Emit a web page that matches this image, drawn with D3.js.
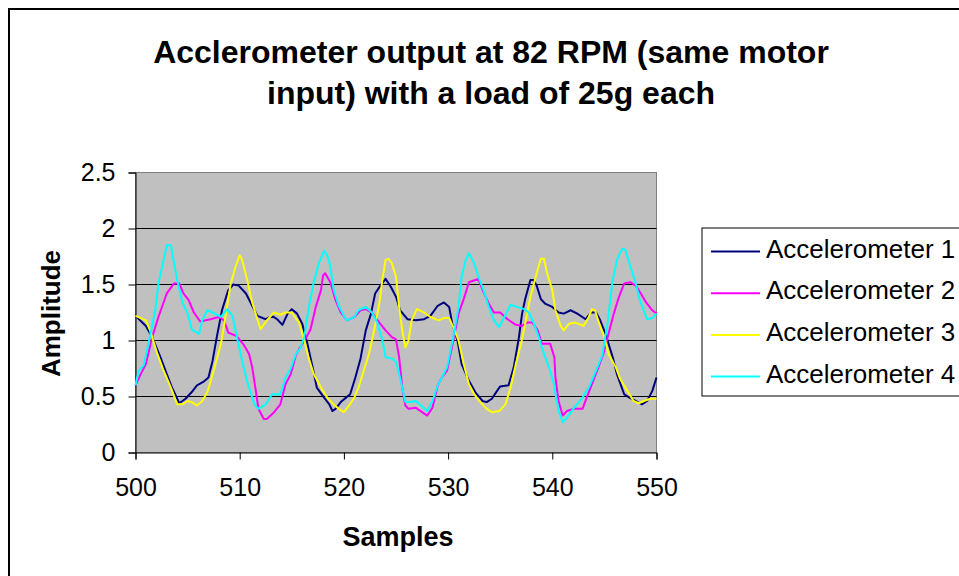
<!DOCTYPE html>
<html><head><meta charset="utf-8">
<script src="https://cdn.jsdelivr.net/npm/d3@7"></script>
<style>body{margin:0;background:#fff;}svg{display:block;font-family:"Liberation Sans",Arial,sans-serif;}</style>
</head><body><svg id="c" width="959" height="576"></svg>
<script>
const titleLines = ["Acclerometer output at 82 RPM (same motor", "input) with a load of 25g each"];
const xTitle = "Samples";
const yTitle = "Amplitude";
const xTicks = [500, 510, 520, 530, 540, 550];
const yTicks = [0, 0.5, 1, 1.5, 2, 2.5];
const seriesNames = ["Accelerometer 1", "Accelerometer 2", "Accelerometer 3", "Accelerometer 4"];
const seriesColors = ["#000080", "#FF00FF", "#FFFF00", "#00FFFF"];

const acc1X = [500,501,501.6,502.4,503,503.5,504.2,504.8,505.4,505.9,506.5,507,507.4,507.8,508.3,508.9,509.4,509.9,510.6,511.2,511.7,512.5,513.1,513.6,514.1,514.6,515,515.5,516,516.5,517,517.4,518.1,518.6,518.9,519.2,519.7,520.2,520.6,521.1,521.6,522.1,522.6,523,523.5,524,524.5,525,525.4,526.1,526.9,527.7,528.3,529,529.6,530.1,530.4,530.9,531.3,532,532.6,533.3,533.7,534.2,534.7,535,535.8,536.3,536.8,537.1,537.4,537.9,538.2,538.5,538.9,539.3,540,540.6,541.1,541.75,542.4,543.2,543.7,544.2,544.6,545.1,545.8,546.2,546.9,547.4,548,548.6,549.1,549.6,550];
const acc1Y = [1.22,1.13,1.03,0.85,0.70,0.58,0.44,0.48,0.54,0.60,0.63,0.67,0.82,1.03,1.27,1.45,1.50,1.49,1.42,1.31,1.22,1.19,1.22,1.19,1.14,1.24,1.28,1.24,1.15,0.97,0.76,0.58,0.49,0.43,0.37,0.39,0.45,0.49,0.52,0.67,0.84,1.09,1.24,1.42,1.49,1.55,1.48,1.39,1.27,1.19,1.18,1.19,1.22,1.31,1.34,1.30,1.15,1.0,0.79,0.64,0.54,0.46,0.45,0.48,0.55,0.59,0.60,0.76,1.03,1.24,1.37,1.54,1.54,1.49,1.37,1.33,1.30,1.25,1.24,1.27,1.24,1.19,1.25,1.25,1.18,1.06,0.85,0.70,0.52,0.49,0.46,0.43,0.46,0.55,0.67];

const acc2X = [500,500.5,501,501.6,502.2,503,503.7,504.2,504.6,505.1,505.6,506.2,507.2,508,508.5,508.9,509.7,510.4,510.9,511.2,511.5,511.8,512.3,512.6,513.3,513.9,514.4,514.9,515.4,515.8,516.3,516.8,517.3,517.8,518,518.2,518.7,519.2,519.7,520.3,521,521.6,522.1,522.7,523.4,524,524.6,525,525.3,525.6,525.9,526.2,526.9,527.5,528,528.5,529,529.4,529.9,530.5,531,531.5,532,532.6,532.9,533.4,533.9,534.4,535,535.7,536.5,537.1,537.6,538.1,538.6,539,539.8,540.2,540.3,540.6,541,541.4,542.1,542.9,543.3,543.8,544.3,544.9,545.4,545.9,546.4,546.9,547.5,548,548.5,549,549.6,550];
const acc2Y = [0.60,0.70,0.79,1.03,1.21,1.42,1.51,1.51,1.42,1.36,1.25,1.17,1.19,1.21,1.18,1.07,1.04,0.96,0.88,0.76,0.58,0.39,0.30,0.30,0.36,0.43,0.61,0.70,0.87,0.94,1.01,1.10,1.30,1.45,1.58,1.60,1.52,1.36,1.25,1.18,1.21,1.27,1.28,1.25,1.16,1.09,1.03,1.01,0.85,0.58,0.42,0.39,0.40,0.36,0.33,0.40,0.60,0.67,0.73,1.0,1.24,1.37,1.52,1.54,1.55,1.43,1.33,1.25,1.25,1.19,1.14,1.13,1.16,1.16,1.09,0.97,0.97,0.85,0.67,0.46,0.33,0.37,0.39,0.39,0.49,0.61,0.73,0.88,1.06,1.24,1.39,1.51,1.52,1.49,1.42,1.34,1.27,1.24];

const acc3X = [500,501,501.4,502.1,502.7,503.4,504,504.5,505,505.4,505.9,506.4,506.9,507.5,508.2,508.6,509.1,509.6,510,510.2,510.7,511.2,511.7,512,512.6,513.3,513.9,514.4,515,515.7,516.2,516.6,517.1,517.8,518.4,519,519.5,520,520.5,521,521.4,521.9,522.4,522.9,523.4,523.7,524,524.3,524.6,525,525.3,525.6,525.9,526.2,526.5,527,527.7,528.3,529.1,529.6,530.1,530.5,531,531.5,532,532.5,533.1,533.7,534.2,534.9,535.5,536,536.5,537,537.4,537.9,538.5,538.9,539.2,539.5,540,540.3,540.8,541.1,541.6,542.2,543,543.5,543.8,544.1,544.5,545,545.4,546.1,546.5,547.2,547.8,548.3,548.8,549.4,550];
const acc3Y = [1.22,1.18,1.09,0.88,0.73,0.58,0.43,0.43,0.46,0.45,0.42,0.46,0.54,0.73,0.97,1.19,1.49,1.66,1.76,1.73,1.55,1.34,1.19,1.10,1.18,1.25,1.23,1.25,1.25,1.16,1.0,0.85,0.70,0.58,0.49,0.43,0.39,0.36,0.42,0.49,0.58,0.73,0.88,1.09,1.33,1.55,1.72,1.73,1.69,1.57,1.30,1.09,0.94,1.0,1.18,1.28,1.25,1.21,1.18,1.20,1.20,1.12,1.0,0.79,0.61,0.52,0.45,0.39,0.36,0.37,0.43,0.58,0.79,0.97,1.15,1.39,1.60,1.73,1.73,1.60,1.45,1.27,1.13,1.09,1.15,1.16,1.13,1.21,1.28,1.27,1.15,1.03,0.88,0.76,0.66,0.55,0.46,0.44,0.46,0.48,0.48];

const acc4X = [500,500.3,500.8,501.3,501.9,502.2,502.7,503,503.4,503.7,504,504.5,505,505.4,506.1,506.4,506.9,507.4,508.2,508.8,509.3,509.8,510.3,510.7,511.4,511.8,512.5,513.1,513.9,514.4,514.9,515.4,515.8,516.2,516.6,517.1,517.6,518.1,518.4,518.7,519,519.5,520,520.3,521,521.4,522.1,522.7,523.2,523.7,524,524.6,525,525.3,525.6,525.9,526.4,526.9,527.4,528,528.5,529,529.4,529.9,530.5,531,531.3,531.7,532,532.5,532.9,533.4,533.9,534.4,534.9,535.4,536,536.6,537.3,537.75,538.2,538.7,539.2,539.8,540.15,540.6,541,541.4,542.1,542.9,543.5,544.2,544.8,545.3,545.75,546.2,546.7,547,547.5,548,548.4,549.1,549.6,550];
const acc4Y = [0.60,0.73,0.78,1.0,1.27,1.51,1.72,1.85,1.85,1.69,1.54,1.34,1.24,1.10,1.06,1.18,1.27,1.25,1.21,1.28,1.22,1.0,0.79,0.64,0.43,0.39,0.43,0.52,0.52,0.67,0.75,0.88,0.93,1.03,1.28,1.52,1.69,1.80,1.76,1.66,1.46,1.31,1.22,1.18,1.21,1.27,1.30,1.25,1.16,1.0,0.85,0.84,0.81,0.70,0.58,0.45,0.45,0.46,0.42,0.37,0.46,0.60,0.67,0.76,1.03,1.30,1.57,1.72,1.78,1.69,1.57,1.45,1.30,1.18,1.12,1.21,1.32,1.30,1.28,1.25,1.16,1.03,0.88,0.73,0.61,0.37,0.27,0.31,0.40,0.49,0.58,0.73,0.87,1.15,1.51,1.72,1.82,1.81,1.66,1.51,1.36,1.19,1.20,1.24];

const seriesX = [acc1X, acc2X, acc3X, acc4X];
const seriesY = [acc1Y, acc2Y, acc3Y, acc4Y];

const svg = d3.select("#c");
const x = d3.scaleLinear().domain([500, 550]).range([135.5, 656.5]);
const y = d3.scaleLinear().domain([0, 2.5]).range([452.5, 172.5]);

// outer chart border
svg.append("rect").attr("x", 9).attr("y", 9).attr("width", 980).attr("height", 600)
  .attr("fill", "#fff").attr("stroke", "#000").attr("stroke-width", 2);

// title
svg.append("g").selectAll("text").data(titleLines).join("text")
  .attr("x", 491).attr("y", (d, i) => 63 + i * 41)
  .attr("text-anchor", "middle").attr("font-size", 32).attr("font-weight", "bold").text(d => d);

// plot area
svg.append("rect").attr("x", x(500)).attr("y", y(2.5)).attr("width", x(550) - x(500)).attr("height", y(0) - y(2.5))
  .attr("fill", "#C0C0C0").attr("stroke", "#808080").attr("stroke-width", 1);

// gridlines
svg.append("g").selectAll("line").data(yTicks.filter(d => d > 0 && d < 2.5)).join("line")
  .attr("x1", x(500)).attr("x2", x(550)).attr("y1", d => y(d)).attr("y2", d => y(d))
  .attr("stroke", "#000").attr("stroke-width", 1);

// axes
const yAxis = d3.axisLeft(y).tickValues(yTicks).tickSize(7).tickPadding(13).tickFormat(d3.format("~g"));
const gy = svg.append("g").attr("transform", `translate(${x(500)},0)`).call(yAxis);
const xAxis = d3.axisBottom(x).tickValues(xTicks).tickSize(7).tickPadding(19);
const gx = svg.append("g").attr("transform", `translate(0,${y(0)})`).call(xAxis);
[gx, gy].forEach(g => {
  g.select(".domain").attr("stroke", "#000").attr("stroke-width", 1);
  g.selectAll(".tick line").attr("stroke", "#000");
  g.selectAll("text").attr("font-size", 25).attr("fill", "#000").attr("font-family", "Liberation Sans, Arial, sans-serif");
});

// axis titles
svg.append("text").attr("x", 398).attr("y", 546).attr("text-anchor", "middle")
  .attr("font-size", 27).attr("font-weight", "bold").text(xTitle);
svg.append("text").attr("transform", "translate(60,313.5) rotate(-90)").attr("text-anchor", "middle")
  .attr("font-size", 26).attr("font-weight", "bold").text(yTitle);

// lines
const line = d3.line().x(d => x(d[0])).y(d => y(d[1]));
svg.append("g").selectAll("path").data(seriesX.map((xs, i) => xs.map((v, j) => [v, seriesY[i][j]]))).join("path")
  .attr("d", line).attr("fill", "none").attr("stroke", (d, i) => seriesColors[i]).attr("stroke-width", 2)
  .attr("stroke-linejoin", "round");

// legend
const lg = svg.append("g");
lg.append("rect").attr("x", 702).attr("y", 228).attr("width", 300).attr("height", 168)
  .attr("fill", "#fff").attr("stroke", "#000").attr("stroke-width", 1);
const items = lg.selectAll("g").data(seriesNames).join("g")
  .attr("transform", (d, i) => `translate(0,${251.5 + i * 41.7})`);
items.append("line").attr("x1", 711).attr("x2", 760).attr("stroke", (d, i) => seriesColors[i]).attr("stroke-width", 2);
items.append("text").attr("x", 766).attr("y", 6).attr("font-size", 26).text(d => d);
</script></body></html>
